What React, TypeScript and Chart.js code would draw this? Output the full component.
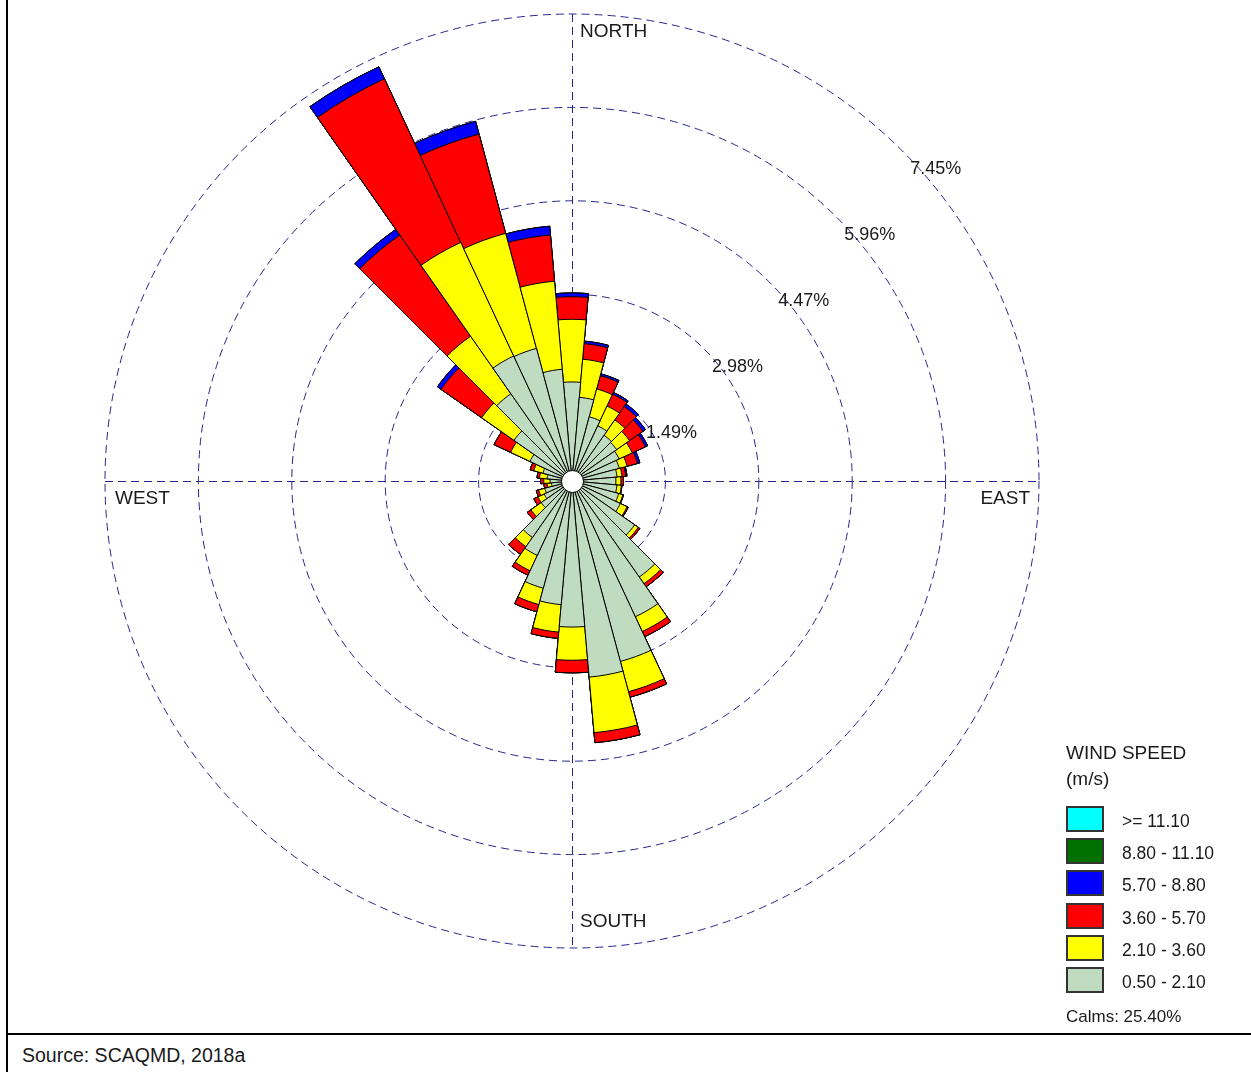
import React, { useEffect, useRef } from "react";
import { Chart, registerables } from "chart.js";

Chart.register(...registerables);

// Direction sectors (degrees clockwise from north, wind blowing FROM)
const directionDegrees = [
  0, 10, 20, 30, 40, 50, 60, 70, 80, 90, 100, 110, 120, 130, 140, 150, 160, 170,
  180, 190, 200, 210, 220, 230, 240, 250, 260, 270, 280, 290, 300, 310, 320, 330, 340, 350,
];

// Frequency (%) per wind-speed class and direction
const pct050to210 = [
  1.58, 1.34, 1.06, 0.97, 0.89, 0.87, 0.83, 0.78, 0.72, 0.70, 0.72, 0.77, 0.85, 1.22, 1.87, 2.39, 2.98, 3.14,
  2.33, 1.98, 1.77, 1.31, 1.10, 0.60, 0.49, 0.45, 0.33, 0.35, 0.40, 0.48, 0.74, 1.13, 1.70, 2.20, 2.19, 1.79,
];
const pct210to360 = [
  1.00, 0.61, 0.46, 0.35, 0.30, 0.25, 0.23, 0.13, 0.08, 0.08, 0.07, 0.07, 0.12, 0.07, 0.13, 0.26, 0.50, 0.89,
  0.53, 0.44, 0.27, 0.27, 0.18, 0.20, 0.11, 0.10, 0.07, 0.10, 0.12, 0.15, 0.34, 0.63, 1.12, 2.00, 1.90, 1.41,
];
const pct360to570 = [
  0.36, 0.25, 0.22, 0.21, 0.26, 0.26, 0.23, 0.17, 0.06, 0.04, 0.01, 0.01, 0.02, 0.03, 0.06, 0.09, 0.09, 0.16,
  0.20, 0.10, 0.12, 0.08, 0.15, 0.07, 0.07, 0.04, 0.05, 0.05, 0.04, 0.06, 0.29, 0.79, 1.97, 2.88, 1.64, 0.74,
];
const pct570to880 = [
  0.06, 0.04, 0.03, 0.03, 0.05, 0.05, 0.04, 0.04, 0.02, 0, 0, 0, 0, 0, 0, 0, 0, 0,
  0, 0, 0, 0, 0, 0, 0, 0, 0, 0, 0, 0, 0, 0.07, 0.11, 0.21, 0.21, 0.14,
];
const pct880to1110 = [
  0, 0, 0, 0, 0, 0, 0, 0, 0, 0, 0, 0, 0, 0, 0, 0, 0, 0,
  0, 0, 0, 0, 0, 0, 0, 0, 0, 0, 0, 0, 0, 0, 0, 0, 0, 0,
];
const pctGe1110 = [
  0, 0, 0, 0, 0, 0, 0, 0, 0, 0, 0, 0, 0, 0, 0, 0, 0, 0,
  0, 0, 0, 0, 0, 0, 0, 0, 0, 0, 0, 0, 0, 0, 0, 0, 0, 0,
];

// Classes from inner (slowest) to outer
const speedLabels = ["0.50 - 2.10", "2.10 - 3.60", "3.60 - 5.70", "5.70 - 8.80", "8.80 - 11.10", ">= 11.10"];
const speedColors = ["#c0dcc0", "#ffff00", "#ff0000", "#0000ff", "#007000", "#00ffff"];
const speedSeries = [pct050to210, pct210to360, pct360to570, pct570to880, pct880to1110, pctGe1110];

const ringValues = [1.49, 2.98, 4.47, 5.96, 7.45];
const ringLabels = ["1.49%", "2.98%", "4.47%", "5.96%", "7.45%"];
const compassLabels = ["NORTH", "EAST", "SOUTH", "WEST"];
const legendTitle = ["WIND SPEED", "(m/s)"];
const calmsText = "Calms: 25.40%";
const sourceText = "Source: SCAQMD, 2018a";

const FONT = '"Liberation Sans", Arial, Helvetica, sans-serif';
const GRID_COLOR = "#26268a";
const TEXT_COLOR = "#1a1a1a";

const roseDecor = {
  id: "roseDecor",
  beforeDatasetsDraw(chart: any) {
    const s = chart.scales.r;
    const ctx = chart.ctx;
    const R = s.getDistanceFromCenterForValue(ringValues[ringValues.length - 1]);
    const cx = s.xCenter;
    const cy = s.yCenter;
    ctx.save();
    ctx.strokeStyle = GRID_COLOR;
    ctx.lineWidth = 1;
    ctx.setLineDash([8, 5]);
    ctx.beginPath();
    ctx.moveTo(cx + 0.5, cy - R);
    ctx.lineTo(cx + 0.5, cy + R);
    ctx.moveTo(cx - R, cy + 0.5);
    ctx.lineTo(cx + R, cy + 0.5);
    ctx.stroke();
    ctx.restore();
  },
  afterDatasetsDraw(chart: any) {
    const s = chart.scales.r;
    const ctx = chart.ctx;
    const cx = s.xCenter;
    const cy = s.yCenter;
    const R = s.getDistanceFromCenterForValue(ringValues[ringValues.length - 1]);
    ctx.save();
    // calm hole
    ctx.beginPath();
    ctx.arc(cx + 0.5, cy + 0.5, 11, 0, Math.PI * 2);
    ctx.fillStyle = "#ffffff";
    ctx.fill();
    ctx.lineWidth = 1;
    ctx.strokeStyle = "#000000";
    ctx.stroke();

    // ring labels
    ctx.fillStyle = TEXT_COLOR;
    ctx.font = `18px ${FONT}`;
    ctx.textBaseline = "middle";
    ctx.textAlign = "left";
    ringValues.forEach((v, i) => {
      const r = s.getDistanceFromCenterForValue(v);
      const px = cx + r * Math.SQRT1_2;
      const py = cy - r * Math.SQRT1_2;
      ctx.fillText(ringLabels[i], px + 8, py + 18);
    });

    // compass labels
    ctx.font = `19px ${FONT}`;
    ctx.textAlign = "left";
    ctx.fillText(compassLabels[0], cx + 8, cy - R + 18);
    ctx.textAlign = "right";
    ctx.fillText(compassLabels[1], cx + R - 9, cy + 18);
    ctx.textAlign = "left";
    ctx.fillText(compassLabels[2], cx + 8, cy + R - 26);
    ctx.fillText(compassLabels[3], cx - R + 10, cy + 18);
    ctx.restore();
  },
};

export default function App() {
  const canvasRef = useRef<HTMLCanvasElement | null>(null);

  useEffect(() => {
    const canvas = canvasRef.current;
    if (!canvas) return;
    // cumulative radii so the classes stack outward
    const running = directionDegrees.map(() => 0);
    const datasets = speedSeries.map((series, k) => {
      const data = series.map((v, i) => {
        running[i] = +(running[i] + v).toFixed(4);
        return running[i];
      });
      return {
        label: speedLabels[k],
        data,
        backgroundColor: speedColors[k],
        borderColor: "#000000",
        borderWidth: 1,
      };
    });

    const chart = new Chart(canvas, {
      type: "polarArea",
      data: {
        labels: directionDegrees.map((d) => `${d}°`),
        datasets,
      },
      options: {
        responsive: false,
        animation: false,
        events: [],
        layout: { padding: { left: 105, top: 14, right: 212, bottom: 85 } },
        plugins: {
          legend: { display: false },
          tooltip: { enabled: false },
        },
        scales: {
          r: {
            min: 0,
            max: 7.45,
            startAngle: -5,
            ticks: { display: false, stepSize: 1.49 },
            grid: { display: true, circular: true, color: GRID_COLOR, lineWidth: 1 },
            border: { dash: [8, 5] },
            angleLines: { display: false },
            pointLabels: { display: false },
          },
        },
      } as any,
      plugins: [roseDecor],
    });
    return () => chart.destroy();
  }, []);

  const boxTop = 806;
  const boxStep = 32.2;
  const legendOrder = [...speedLabels].reverse();
  const legendColors = [...speedColors].reverse();

  return (
    <div
      style={{
        position: "absolute",
        left: 0,
        top: 0,
        width: 1251,
        height: 1072,
        background: "#ffffff",
        fontFamily: FONT,
        color: TEXT_COLOR,
        overflow: "hidden",
      }}
    >
      <canvas
        ref={canvasRef}
        width={1251}
        height={1033}
        style={{ position: "absolute", left: 0, top: 0, display: "block" }}
      />
      {/* frame lines */}
      <div style={{ position: "absolute", left: 6, top: 0, width: 2, height: 1072, background: "#000" }} />
      <div style={{ position: "absolute", left: 6, top: 1033, width: 1245, height: 2, background: "#000" }} />

      {/* legend */}
      <div style={{ position: "absolute", left: 1066, top: 742, fontSize: 19, lineHeight: "22px", whiteSpace: "nowrap" }}>
        {legendTitle[0]}
      </div>
      <div style={{ position: "absolute", left: 1066, top: 768, fontSize: 19, lineHeight: "22px", whiteSpace: "nowrap" }}>
        {legendTitle[1]}
      </div>
      {legendOrder.map((lab, i) => (
        <React.Fragment key={lab}>
          <div
            style={{
              position: "absolute",
              left: 1066,
              top: boxTop + i * boxStep,
              width: 38,
              height: 26,
              boxSizing: "border-box",
              border: "2px solid #333",
              background: legendColors[i],
            }}
          />
          <div
            style={{
              position: "absolute",
              left: 1122,
              top: boxTop + i * boxStep + 5,
              fontSize: 17.5,
              lineHeight: "20px",
              whiteSpace: "nowrap",
            }}
          >
            {lab}
          </div>
        </React.Fragment>
      ))}
      <div style={{ position: "absolute", left: 1066, top: 1007, fontSize: 17, lineHeight: "20px", whiteSpace: "nowrap" }}>
        {calmsText}
      </div>

      {/* source */}
      <div style={{ position: "absolute", left: 22, top: 1044, fontSize: 19.5, lineHeight: "22px", whiteSpace: "nowrap" }}>
        {sourceText}
      </div>
    </div>
  );
}
